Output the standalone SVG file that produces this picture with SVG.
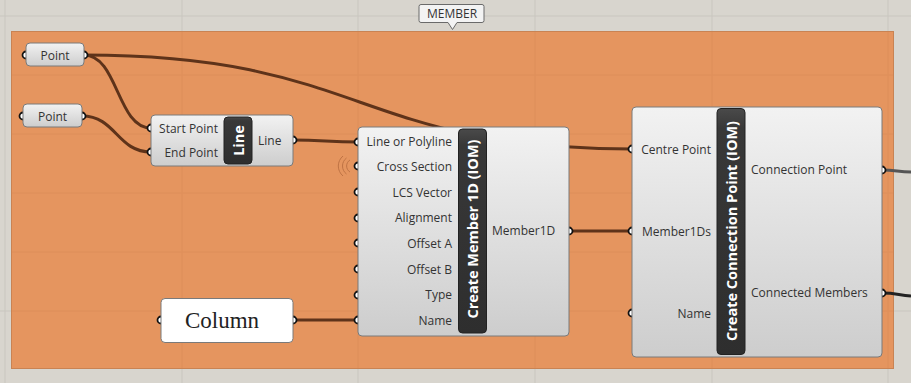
<svg xmlns="http://www.w3.org/2000/svg" width="911" height="383" viewBox="0 0 911 383">
<defs>
<linearGradient id="body" x1="0" y1="0" x2="0" y2="1">
<stop offset="0" stop-color="#f2f2f2"/>
<stop offset="1" stop-color="#cdcdcd"/>
</linearGradient>
<linearGradient id="dark" x1="0" y1="0" x2="0" y2="1">
<stop offset="0" stop-color="#4a4a4a"/>
<stop offset="0.08" stop-color="#383838"/>
<stop offset="1" stop-color="#2e2e2e"/>
</linearGradient>
<style>
.grid{stroke:#c9c6bf;stroke-width:1}
.body{fill:url(#body);stroke:#7a7a7a;stroke-width:1}
.title{fill:url(#dark);stroke:#222;stroke-width:1}
.t{font-family:"Open Sans","Noto Sans",sans-serif;font-size:12px;fill:#333}
.r{text-anchor:end}
.tt{font-family:"Open Sans","Noto Sans",sans-serif;font-size:14.5px;font-weight:bold;fill:#fff;text-anchor:middle;dominant-baseline:central}
.grip{fill:#fff;stroke:#111;stroke-width:1.8}
.wire{fill:none;stroke:#5e331a;stroke-width:3}
</style>
</defs>
<rect width="911" height="383" fill="#d8d5ce"/>
<g id="grid">
<line class="grid" x1="5" y1="0" x2="5" y2="383"/>
<line class="grid" x1="182" y1="0" x2="182" y2="383"/>
<line class="grid" x1="358" y1="0" x2="358" y2="383"/>
<line class="grid" x1="535" y1="0" x2="535" y2="383"/>
<line class="grid" x1="712" y1="0" x2="712" y2="383"/>
<line class="grid" x1="888" y1="0" x2="888" y2="383"/>
<line class="grid" x1="0" y1="16" x2="911" y2="16"/>
<line class="grid" x1="0" y1="311" x2="911" y2="311"/>
</g>
<g id="group-MEMBER">
<rect x="11.5" y="31.5" width="882" height="337" fill="#e5955f" stroke="#c98353" stroke-width="1"/>
<g stroke="#db8c59" stroke-width="1" opacity="0.6">
<line x1="182" y1="32" x2="182" y2="368"/>
<line x1="358" y1="32" x2="358" y2="368"/>
<line x1="535" y1="32" x2="535" y2="368"/>
<line x1="712" y1="32" x2="712" y2="368"/>
<line x1="888" y1="32" x2="888" y2="368"/>
<line x1="12" y1="75" x2="893" y2="75"/>
<line x1="12" y1="134" x2="893" y2="134"/>
<line x1="12" y1="193" x2="893" y2="193"/>
<line x1="12" y1="252" x2="893" y2="252"/>
<line x1="12" y1="311" x2="893" y2="311"/>
</g>
<path d="M421,4.5 h61 a2,2 0 0 1 2,2 v14 a2,2 0 0 1 -2,2 h-25 l-4.5,7 l-4.5,-7 h-27 a2,2 0 0 1 -2,-2 v-14 a2,2 0 0 1 2,-2 z" fill="#f3f3f3" stroke="#6a6a6a" stroke-width="1"/>
<text class="t" x="452" y="18" text-anchor="middle">MEMBER</text>
</g>
<g id="connectors">
<path class="wire" d="M84,55 C118,55 117,128 151,128"/>
<path class="wire" d="M84,55 C365,55 355,149 632,149"/>
<path class="wire" d="M82,116 C116,116 117,152 151,152"/>
<path class="wire" d="M293,140 C323,140 328,142 358,142"/>
<path class="wire" d="M569,231 L632,231"/>
<path class="wire" d="M293,320 L358,320"/>
<path fill="none" stroke="#555" stroke-width="3" d="M882,170 C896,170 898,172 911,172"/>
<path fill="none" stroke="#222" stroke-width="3" d="M882,293 C896,293 898,295 911,296"/>
<g fill="none" stroke="#b0663a" stroke-width="1" opacity="0.7">
<path d="M350,160 a7,7 0 0 0 0,12"/>
<path d="M346.5,158 a10,10 0 0 0 0,16"/>
<path d="M343,156 a13,13 0 0 0 0,20"/>
</g>
</g>
<g id="point-1">
<circle class="grip" cx="26" cy="55" r="3.5"/>
<circle class="grip" cx="84" cy="55" r="3.5"/>
<rect class="body" x="26" y="43" width="58" height="23" rx="4"/>
<text class="t" x="55" y="59.5" text-anchor="middle">Point</text>
</g>
<g id="point-2">
<circle class="grip" cx="23" cy="116" r="3.5"/>
<circle class="grip" cx="82" cy="116" r="3.5"/>
<rect class="body" x="23" y="104" width="59" height="23" rx="4"/>
<text class="t" x="52.5" y="120.5" text-anchor="middle">Point</text>
</g>
<g id="line">
<circle class="grip" cx="151" cy="128" r="3.5"/>
<circle class="grip" cx="151" cy="152" r="3.5"/>
<circle class="grip" cx="293" cy="140" r="3.5"/>
<rect class="body" x="151" y="115" width="142" height="51" rx="4"/>
<rect class="title" x="224" y="117" width="28" height="47" rx="4"/>
<text class="tt" transform="translate(238,140.5) rotate(-90)">Line</text>
<text class="t r" x="218" y="132.5">Start Point</text>
<text class="t r" x="218" y="156.5">End Point</text>
<text class="t" x="258" y="144.5">Line</text>
</g>
<g id="create-member-1d">
<circle class="grip" cx="358" cy="142" r="3.5"/>
<circle class="grip" cx="358" cy="166" r="3.5"/>
<circle class="grip" cx="358" cy="192" r="3.5"/>
<circle class="grip" cx="358" cy="218" r="3.5"/>
<circle class="grip" cx="358" cy="243" r="3.5"/>
<circle class="grip" cx="358" cy="269" r="3.5"/>
<circle class="grip" cx="358" cy="295" r="3.5"/>
<circle class="grip" cx="358" cy="320" r="3.5"/>
<circle class="grip" cx="569" cy="231" r="3.5"/>
<rect class="body" x="358" y="127" width="211" height="209" rx="4"/>
<rect class="title" x="458.5" y="129" width="28" height="204" rx="4"/>
<text class="tt" transform="translate(472.5,229) rotate(-90)">Create Member 1D (IOM)</text>
<text class="t r" x="452" y="146">Line or Polyline</text>
<text class="t r" x="452" y="170.5">Cross Section</text>
<text class="t r" x="452" y="196.5">LCS Vector</text>
<text class="t r" x="452" y="222">Alignment</text>
<text class="t r" x="452" y="247.5">Offset A</text>
<text class="t r" x="452" y="273.5">Offset B</text>
<text class="t r" x="452" y="299">Type</text>
<text class="t r" x="452" y="324.5">Name</text>
<text class="t" x="492" y="235">Member1D</text>
</g>
<g id="create-connection-point">
<circle class="grip" cx="632" cy="149" r="3.5"/>
<circle class="grip" cx="632" cy="231" r="3.5"/>
<circle class="grip" cx="632" cy="313" r="3.5"/>
<circle class="grip" cx="882" cy="170" r="3.5"/>
<circle class="grip" cx="882" cy="293" r="3.5"/>
<rect class="body" x="632" y="107" width="250" height="250" rx="4"/>
<rect class="title" x="717" y="108.5" width="28" height="246" rx="4"/>
<text class="tt" transform="translate(731,231) rotate(-90)">Create Connection Point (IOM)</text>
<text class="t r" x="711" y="153.5">Centre Point</text>
<text class="t r" x="711" y="235.5">Member1Ds</text>
<text class="t r" x="711" y="317.5">Name</text>
<text class="t" x="751" y="174">Connection Point</text>
<text class="t" x="751" y="297">Connected Members</text>
</g>
<g id="panel-column">
<circle class="grip" cx="161" cy="320" r="3.5"/>
<circle class="grip" cx="293" cy="320" r="3.5"/>
<rect x="161" y="298.5" width="132" height="44" rx="4" fill="#fff" stroke="#7a7a7a" stroke-width="1"/>
<text x="222" y="327.5" text-anchor="middle" font-family="'Liberation Serif',serif" font-size="23" fill="#222">Column</text>
</g>
</svg>
